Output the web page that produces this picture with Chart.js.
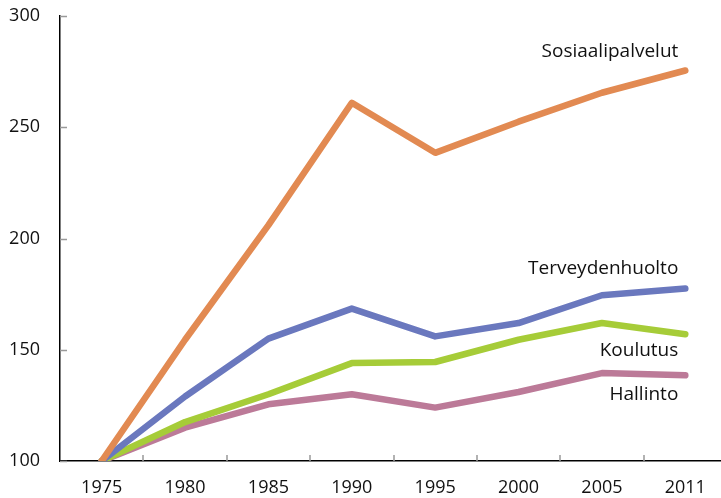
<!DOCTYPE html>
<html>
<head>
<meta charset="utf-8">
<script src="https://cdn.jsdelivr.net/npm/chart.js@4/dist/chart.umd.min.js"></script>
<style>
  html, body { margin: 0; padding: 0; background: #fff; overflow: hidden; }
  #wrap { width: 721px; height: 498px; overflow: hidden; position: relative; }
  #wrap canvas { position: absolute; left: 0; top: 0; }
</style>
</head>
<body>
<div id="wrap"><canvas id="chart" width="727" height="498"></canvas></div>
<script>
const years = ["1975", "1980", "1985", "1990", "1995", "2000", "2005", "2011"];

const sosiaalipalvelut = [100, 154.5, 206, 261, 238.5, 252.5, 265.5, 275.5];
const terveydenhuolto = [100, 129, 155, 168.5, 156, 162, 174.5, 177.5];
const koulutus = [100, 117.5, 130, 144, 144.5, 154.5, 162, 157];
const hallinto = [100, 115, 125.5, 130, 124, 131, 139.5, 138.5];

const seriesNames = ["Sosiaalipalvelut", "Terveydenhuolto", "Koulutus", "Hallinto"];
const seriesColors = ["#e28a52", "#6a78be", "#a6cc38", "#bc7a98"];
// label offset from the last point, in pixels
const labelOffsets = [-19, -20, 16, 19];

const yTicks = [100, 150, 200, 250, 300];

const fontFamily = "'Open Sans', 'Noto Sans', sans-serif";

const endLabels = {
  id: "endLabels",
  afterDatasetsDraw(chart) {
    const ctx = chart.ctx;
    const x = chart.scales.x;
    const y = chart.scales.y;
    ctx.save();
    ctx.font = "19px " + fontFamily;
    ctx.fillStyle = "#111";
    ctx.textAlign = "right";
    ctx.textBaseline = "middle";
    chart.data.datasets.forEach((ds, i) => {
      const last = ds.data.length - 1;
      const px = x.getPixelForValue(last);
      const py = y.getPixelForValue(ds.data[last]);
      ctx.fillText(ds.label, px - 7, py + labelOffsets[i]);
    });
    ctx.restore();
  },
};

// tick marks pointing into the plot
const innerTicks = {
  id: "innerTicks",
  afterDraw(chart) {
    const ctx = chart.ctx;
    const area = chart.chartArea;
    const x = chart.scales.x;
    const y = chart.scales.y;
    ctx.save();
    ctx.strokeStyle = "#999";
    ctx.lineWidth = 1.5;
    ctx.beginPath();
    yTicks.forEach((v) => {
      const py = Math.round(y.getPixelForValue(v)) + 0.5;
      ctx.moveTo(area.left, py);
      ctx.lineTo(area.left + 7, py);
    });
    for (let i = 1; i < years.length; i++) {
      const px = Math.round((x.getPixelForValue(i - 1) + x.getPixelForValue(i)) / 2);
      ctx.moveTo(px, area.bottom);
      ctx.lineTo(px, area.bottom - 6);
    }
    ctx.stroke();
    ctx.restore();
  },
};

new Chart(document.getElementById("chart"), {
  type: "line",
  data: {
    labels: years,
    datasets: [sosiaalipalvelut, terveydenhuolto, koulutus, hallinto].map((d, i) => ({
      label: seriesNames[i],
      data: d,
      borderColor: seriesColors[i],
      backgroundColor: seriesColors[i],
      borderWidth: 6.5,
      pointRadius: 0,
      borderCapStyle: "round",
      borderJoinStyle: "round",
      tension: 0,
    })),
  },
  options: {
    responsive: false,
    animation: false,
    layout: { padding: { top: 16, right: 0, left: 0, bottom: 0 } },
    plugins: {
      legend: { display: false },
      tooltip: { enabled: false },
    },
    scales: {
      x: {
        offset: true,
        grid: { display: false, drawTicks: false },
        border: { color: "#000", width: 1.5 },
        ticks: {
          padding: 16, maxRotation: 0, autoSkip: false, color: "#111",
          font: { family: fontFamily, size: 18 },
        },
        afterFit: (scale) => {
          scale.height = 37;
          scale.paddingLeft = 0;
          scale.paddingRight = 0;
        },
      },
      y: {
        min: 100,
        max: 300,
        afterBuildTicks: (scale) => { scale.ticks = yTicks.map((v) => ({ value: v })); },
        grid: { display: false, drawTicks: false },
        border: { color: "#000", width: 1.5 },
        ticks: { padding: 20, color: "#111", font: { family: fontFamily, size: 18 } },
        afterFit: (scale) => {
          scale.width = 60;
          scale.paddingTop = 0;
          scale.paddingBottom = 0;
        },
      },
    },
  },
  plugins: [endLabels, innerTicks],
});
</script>
</body>
</html>
